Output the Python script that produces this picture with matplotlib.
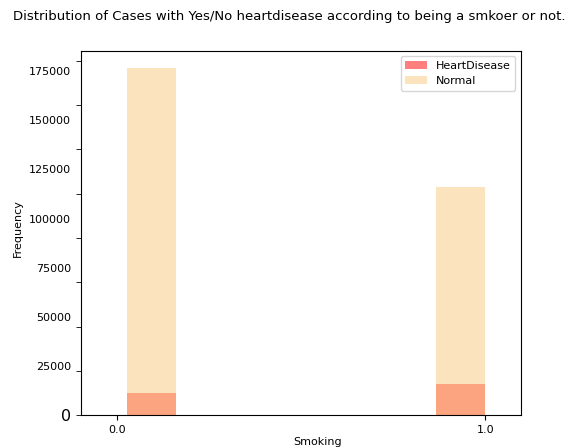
import matplotlib
matplotlib.use('Agg')
import matplotlib.pyplot as plt
from matplotlib.ticker import MultipleLocator, FixedLocator
import numpy as np

# smoking flag (0 = no, 1 = yes) and counts per group
smoking = np.array([0, 1])
heart_disease = [11336, 16037]
normal = [176551, 115871]
ytick_values = [0, 25000, 50000, 75000, 100000, 125000, 150000, 175000]
xtick_labels = ['0.0', '1.0']

# bar placement (style)
bar_start = 0.0255
bar_step = 0.841
bar_width = 0.134
bar_left = bar_start + smoking * bar_step

fig = plt.figure(figsize=(5.71, 4.48), dpi=100)
ax = fig.add_axes([0.1413, 0.0730, 0.7711, 0.8138])

ax.bar(bar_left, heart_disease, width=bar_width, align='edge', color='red', alpha=0.5, label='HeartDisease')
ax.bar(bar_left, normal, width=bar_width, align='edge', color='#f8c97f', alpha=0.5, label='Normal')

ax.set_xlim(-0.0995, 1.097)
ax.set_ylim(0, max(normal) * 1.05)

ax.set_xticks(smoking)
ax.set_xticklabels(xtick_labels, fontsize=8)

# labelled ticks without marks, marks on a separate locator
ax.yaxis.set_major_locator(FixedLocator(ytick_values))
ax.set_yticklabels([str(v) for v in ytick_values], fontsize=8)
ax.yaxis.get_major_ticks()[0].label1.set_fontsize(11.5)
ax.yaxis.set_minor_locator(MultipleLocator(22532))
ax.yaxis.remove_overlapping_locs = False
ax.tick_params(axis='y', which='major', length=0, pad=7)
ax.tick_params(axis='y', which='minor', length=3.5)

ax.set_ylabel('Frequency', fontsize=8)
ax.yaxis.set_label_coords(-0.131, 0.514)
ax.set_xlabel('Smoking', fontsize=8)
ax.xaxis.set_label_coords(0.537, -0.059)

ax.legend(loc='upper right', fontsize=8)

fig.suptitle('Distribution of Cases with Yes/No heartdisease according to being a smkoer or not.',
             x=0.506, y=0.964, va='center', fontsize=9.5)

fig.savefig('out.png', dpi=100)
